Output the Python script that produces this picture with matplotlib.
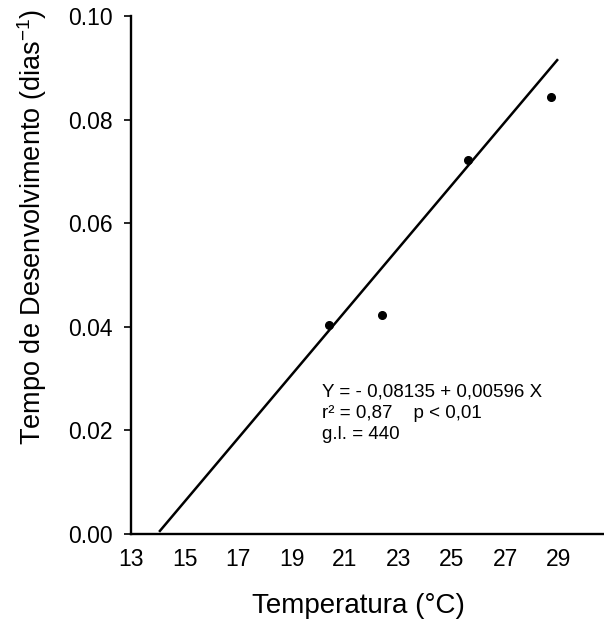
import numpy as np
import matplotlib
matplotlib.use("Agg")
import matplotlib.pyplot as plt

plt.rcParams['font.family'] = ['Liberation Sans', 'DejaVu Sans']

# dados
temp = [20.4, 22.4, 25.6, 28.7]
taxa = [0.0404, 0.0422, 0.0723, 0.0843]

# reta de regressao (Y = -0.08135 + 0.00596 X), extremos
reta_x = [14.08, 28.93]
reta_y = [0.0006, 0.0915]

xticks = [13, 15, 17, 19, 21, 23, 25, 27, 29]
yticks = [0.00, 0.02, 0.04, 0.06, 0.08, 0.10]

fig = plt.figure(figsize=(6.04, 6.24), dpi=100)
ax = fig.add_axes([0.2169, 0.1442, 0.7831, 0.830])

ax.plot(reta_x, reta_y, color="black", lw=1.8)
ax.plot(temp, taxa, "o", color="black", ms=5.5)

ax.set_xlim(13, 30.68)
ax.set_ylim(0, 0.10)
ax.set_xticks(xticks)
ax.set_yticks(yticks)
ax.set_yticklabels(["%.2f" % v for v in yticks])

for s in ["top", "right"]:
    ax.spines[s].set_visible(False)
ax.spines["left"].set_linewidth(1.7)
ax.spines["bottom"].set_linewidth(1.7)

ax.tick_params(axis="x", length=0, pad=10, labelsize=16.5)
ax.tick_params(axis="y", length=5, width=1.2, pad=8, labelsize=16.5)

ax.text(0.404, 0.290,
        "Y = - 0,08135 + 0,00596 X\nr\u00b2 = 0,87    p < 0,01\ng.l. = 440",
        transform=ax.transAxes, ha="left", va="top", fontsize=13.5,
        linespacing=1.3)

fig.text(358 / 604, 1 - 606 / 624, "Temperatura (\u00b0C)", ha="center",
         va="center", fontsize=20)
fig.text(32 / 604, 1 - 227 / 624,
         r"Tempo de Desenvolvimento (dias$\mathregular{^{-1}}$)",
         rotation=90, ha="center", va="center", fontsize=19.5)

plt.savefig("out.png", dpi=100)
